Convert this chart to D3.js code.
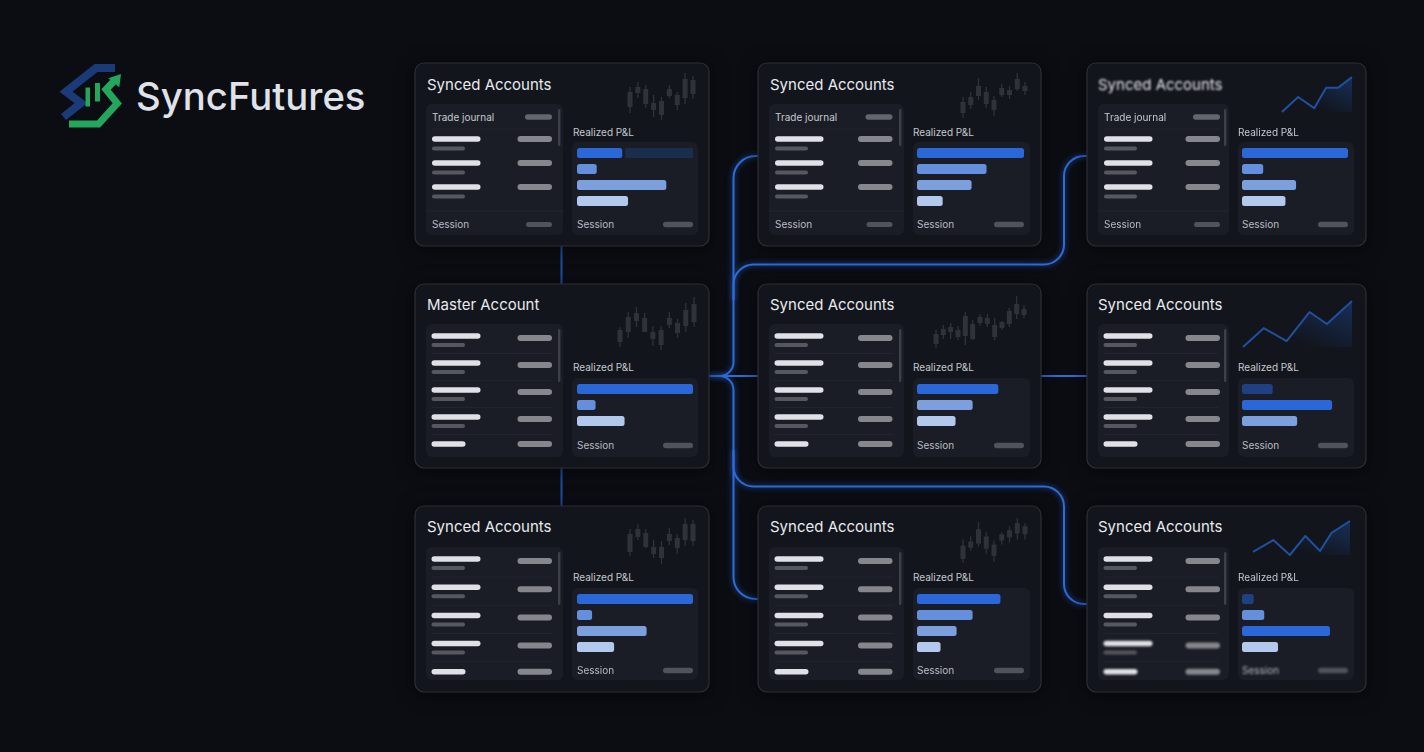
<!DOCTYPE html>
<html>
<head>
<meta charset="utf-8">
<style>
  html, body { margin: 0; padding: 0; background: #0b0d13; }
  svg { display: block; font-family: Inter, "Noto Sans", sans-serif; }
</style>
</head>
<body>
<script src="https://d3js.org/d3.v7.min.js"></script>
<svg id="chart" width="1424" height="752"></svg>
<script>
// card order: column by column, top to bottom
const brandName = "SyncFutures"
const cardTitles = ["Synced Accounts", "Master Account", "Synced Accounts",
                    "Synced Accounts", "Synced Accounts", "Synced Accounts",
                    "Synced Accounts", "Synced Accounts", "Synced Accounts"]
const panelLabel = "Realized P&L"
const headerLabel = "Trade journal"
const footerLabel = "Session"

const barValues = [[39, 17, 77, 44], [100, 16, 41], [100, 13, 60, 32],
                   [100, 65, 51, 24], [76, 52, 36], [78, 52, 37, 22],
                   [100, 20, 51, 41], [29, 85, 52], [11, 21, 83, 34]]
const barTones = [["bright", "mid", "soft", "pale"], ["bright", "mid", "pale"], ["bright", "mid", "soft", "pale"],
                  ["bright", "mid", "soft", "pale"], ["bright", "soft", "pale"], ["bright", "mid", "soft", "pale"],
                  ["bright", "mid", "soft", "pale"], ["dim", "bright", "soft"], ["dim", "mid", "bright", "pale"]]

// [low, body low, body high, high]
const candlesA = [[7,13,28,33],[22,27,33,38],[12,16,31,35],[3,10,17,25],[0,5,19,23],[22,24,31,35],[10,15,25,28],[16,22,41,47],[21,26,40,44]]
const candlesB = [[3,8,20,23],[12,18,33,38],[23,29,37,43],[18,18,32,37],[4,11,18,24],[0,5,20,24],[22,25,32,38],[12,17,27,31],[18,24,40,47],[23,28,46,53]]
const candlesC = [[8,12,30,35],[24,27,35,40],[16,17,31,35],[6,10,17,24],[0,6,17,23],[19,23,30,36],[10,16,26,30],[18,24,40,46],[18,23,40,44]]
const candlesD = [[0,5,16,21],[9,13,21,26],[18,22,32,40],[10,14,26,31],[2,8,18,22],[21,23,30,34],[19,23,28,32],[27,29,39,45],[23,27,32,36]]
const candlesE = [[0,4,14,18],[9,13,19,23],[9,16,21,25],[8,11,18,22],[3,12,32,36],[8,9,24,28],[22,25,31,34],[21,24,30,34],[8,11,23,30],[18,20,26,27],[21,24,37,40],[29,34,44,52],[30,33,39,43]]
const candlesF = [[0,4,17,23],[12,15,21,26],[16,19,33,40],[9,14,26,30],[1,7,18,22],[18,22,28,30],[20,25,32,36],[23,29,39,44],[23,28,36,39]]

const lineTopX = [0, 23, 46, 63, 80, 100]
const lineTopY = [0, 43, 11, 69, 69, 100]
const lineMidX = [0, 19, 40, 61, 77, 100]
const lineMidY = [0, 41, 13, 76, 50, 100]
const lineLowX = [0, 21, 38, 54, 69, 81, 100]
const lineLowY = [9, 44, 0, 56, 12, 65, 100]

const sparkData = [candlesA, candlesB, candlesC, candlesD, candlesE, candlesF,
                   {xs: lineTopX, ys: lineTopY}, {xs: lineMidX, ys: lineMidY}, {xs: lineLowX, ys: lineLowY}]

// layout, kept apart from the values
const colGeom = [
  {x: 415, w: 294, left: [426, 563], right: [572, 698], barX: 577, barW: 116, titleX: 427, labelX: 573, pillEnd: 11},
  {x: 758, w: 283, left: [769, 904], right: [913, 1030], barX: 917, barW: 107, titleX: 770, labelX: 913, pillEnd: 11.5},
  {x: 1087, w: 279, left: [1098, 1229], right: [1238, 1354], barX: 1242, barW: 106, titleX: 1098, labelX: 1238, pillEnd: 9}
]
const rowGeom = [
  {y: 63, h: 183, titleY: 85, list: [104, 235], right: [142, 235], labelY: 132, footY: 224.5},
  {y: 284, h: 184, titleY: 305, list: [324, 457], right: [378, 457], labelY: 367, footY: 445.5},
  {y: 506, h: 186, titleY: 527, list: [547, 680], right: [588, 680], labelY: 577, footY: 670.5}
]
const sparkBoxes = [
  [630, 693, 120, 73], [620, 694, 350, 297], [630, 693, 564, 518],
  [963, 1025, 118, 73], [936, 1024, 348, 296], [963, 1025, 563, 518],
  [1282, 1352, 112, 77], [1243, 1352, 347, 301], [1253, 1350, 555, 521]
]
// blur found on the gif frames: title, label, sparkline, bars, footer, last list rows
const softness = [
  {}, {}, {foot: 0.5, last: 0.7},
  {}, {}, {last: 0.6},
  {title: 1, label: 0.7, spark: 0.5, bars: 0.5, list: 0.3},
  {},
  {label: 0.4, bars: 0.6, foot: 1.3, last: 0.8, list: 0.3}
]

const toneColor = d3.scaleOrdinal()
  .domain(["bright", "mid", "soft", "pale", "dim"])
  .range(["#2a67d8", "#648fdc", "#7ca0de", "#b2c8ec", "#1f4184"])

const svg = d3.select("#chart")
const defs = svg.append("defs")

function blurId(v) { return "blur" + String(v).replace(".", "_") }
;[0.3, 0.4, 0.5, 0.6, 0.7, 0.8, 1, 1.3, 2.5].forEach(v => {
  defs.append("filter").attr("id", blurId(v))
    .attr("x", "-20%").attr("y", "-40%").attr("width", "140%").attr("height", "180%")
    .attr("color-interpolation-filters", "sRGB")
    .append("feGaussianBlur").attr("stdDeviation", v)
})
const shadow = defs.append("filter").attr("id", "cardShadow")
  .attr("x", "-15%").attr("y", "-15%").attr("width", "130%").attr("height", "130%")
  .attr("color-interpolation-filters", "sRGB")
shadow.append("feDropShadow").attr("dx", 0).attr("dy", 2).attr("stdDeviation", 9)
  .attr("flood-color", "#000").attr("flood-opacity", 0.55)
const sparkFade = defs.append("linearGradient").attr("id", "sparkFade")
  .attr("x1", 0).attr("y1", 1).attr("x2", 1).attr("y2", 0)
sparkFade.append("stop").attr("offset", "30%").attr("stop-color", "#1f4ea3").attr("stop-opacity", 0)
sparkFade.append("stop").attr("offset", "100%").attr("stop-color", "#1f4ea3").attr("stop-opacity", 0.45)

function soft(sel, v) { if (v) sel.attr("filter", `url(#${blurId(v)})`); return sel }

svg.append("rect").attr("width", 1424).attr("height", 752).attr("fill", "#0b0d13")

const cards = cardTitles.map((title, i) => {
  const c = Math.floor(i / 3), r = i % 3
  return {title, col: colGeom[c], row: rowGeom[r], r, bars: barValues[i], tones: barTones[i],
          spark: sparkData[i], box: sparkBoxes[i], soft: softness[i]}
})

// connectors --------------------------------------------------
const master = cards[1]
const trunkX = 733.5, busX = 1064
const topBusY = 264.5, lowBusY = 486.5
const masterY = 376, topY = 156, lowY = 599, lowFarY = 604

function route(points, radii) {
  const p = d3.path()
  p.moveTo(points[0][0], points[0][1])
  for (let i = 1; i < points.length - 1; i++) {
    p.arcTo(points[i][0], points[i][1], points[i + 1][0], points[i + 1][1], radii[i - 1])
  }
  const last = points[points.length - 1]
  p.lineTo(last[0], last[1])
  return p.toString()
}
const masterRight = master.col.x + master.col.w
const routes = [
  {d: route([[masterRight, masterY], [trunkX, masterY], [trunkX, topY], [cards[3].col.x, topY]], [14, 22])},
  {d: route([[masterRight, masterY], [trunkX, masterY], [trunkX, lowY], [cards[5].col.x, lowY]], [14, 22])},
  {d: route([[trunkX, 300], [trunkX, topBusY], [busX, topBusY], [busX, topY], [cards[6].col.x, topY]], [20, 20, 20])},
  {d: route([[trunkX, 450], [trunkX, lowBusY], [busX, lowBusY], [busX, lowFarY], [cards[8].col.x, lowFarY]], [20, 20, 20])},
  {d: route([[masterRight, masterY], [cards[4].col.x, masterY]], [])},
  {d: route([[cards[4].col.x + cards[4].col.w, masterY], [cards[7].col.x, masterY]], [])}
]
const wires = svg.append("g").attr("fill", "none")
wires.selectAll("path.glow").data(routes).enter().append("path")
  .attr("class", "glow").attr("d", d => d.d)
  .attr("stroke", "#2a6be0").attr("stroke-width", 5).attr("stroke-opacity", 0.3)
  .attr("filter", `url(#${blurId(2.5)})`)
wires.selectAll("path.core").data(routes).enter().append("path")
  .attr("class", "core").attr("d", d => d.d)
  .attr("stroke", "#2d6bd8").attr("stroke-width", 2)

// the two short stubs from master up and down
const stubX = 561.5
wires.selectAll("line.stub").data([[cards[0].row.y + cards[0].row.h, master.row.y], [master.row.y + master.row.h, cards[2].row.y]])
  .enter().append("line").attr("class", "stub")
  .attr("x1", stubX).attr("x2", stubX)
  .attr("y1", d => d[0]).attr("y2", d => d[1])
  .attr("stroke", "#1d4fa6").attr("stroke-width", 2)

// cards -------------------------------------------------------
const cardG = svg.selectAll("g.card").data(cards).enter().append("g").attr("class", "card")
cardG.each(function(card) { drawCard(d3.select(this), card) })

function textAt(g, x, y, s, size, fill, weight) {
  return g.append("text").attr("x", x).attr("y", y).attr("dy", "0.36em")
    .attr("font-size", size).attr("font-weight", weight || 400).attr("fill", fill).text(s)
}
function pill(g, x, y, w, h, fill) {
  return g.append("rect").attr("x", x).attr("y", y - h / 2).attr("width", w).attr("height", h)
    .attr("rx", h / 2).attr("fill", fill)
}

function drawCard(g, card) {
  const {col, row} = card
  const s = card.soft
  g.append("rect").attr("x", col.x).attr("y", row.y).attr("width", col.w).attr("height", row.h)
    .attr("rx", 9).attr("fill", "#12151c").attr("stroke", "#2c2f36").attr("stroke-width", 1.2)
    .attr("filter", "url(#cardShadow)")
  soft(textAt(g, col.titleX, row.titleY, card.title, 15, "#e8eaee", 400), s.title)

  // list panel
  g.append("rect").attr("x", col.left[0]).attr("y", row.list[0])
    .attr("width", col.left[1] - col.left[0]).attr("height", row.list[1] - row.list[0])
    .attr("rx", 6).attr("fill", "#1a1d25")
  drawList(soft(g.append("g"), s.list), card)

  // right panel
  g.append("rect").attr("x", col.right[0]).attr("y", row.right[0])
    .attr("width", col.right[1] - col.right[0]).attr("height", row.right[1] - row.right[0])
    .attr("rx", 6).attr("fill", "#1a1d25")
  soft(textAt(g, col.labelX, row.labelY, panelLabel, 10, "#c6c9cf"), s.label)
  drawBars(soft(g.append("g"), s.bars), card)
  soft(textAt(g, col.barX, row.footY, footerLabel, 10, "#b8bbc1"), s.foot)
  soft(pill(g, col.barX + col.barW - 30, row.footY, 30, 5.5, "#50535a"), s.foot)

  if (Array.isArray(card.spark)) drawCandles(g, card)
  else drawLine(soft(g.append("g"), s.spark), card)
}

function drawList(g, card) {
  const {col, row, r} = card
  const [l, rEdge] = col.left
  const top = row.list[0]
  const xStart = l + (r === 0 ? 6 : 5.5)
  const rightEnd = rEdge - col.pillEnd
  // scrollbar
  g.append("rect").attr("x", rEdge - 5).attr("y", top + 5).attr("width", 2.4)
    .attr("height", r === 0 ? 37 : 53).attr("rx", 1.2).attr("fill", "#3d4047")

  if (r === 0) {
    textAt(g, xStart, top + 13, headerLabel, 10, "#c6c9cf")
    pill(g, rightEnd - 27, top + 13, 27, 5.5, "#63666d")
    g.append("line").attr("x1", l + 6).attr("x2", rEdge - 10).attr("y1", top + 25).attr("y2", top + 25).attr("stroke", "#24272f")
    ;[35, 59, 83].forEach(dy => {
      pill(g, xStart, top + dy, 48.5, 5.5, "#dfe1e6")
      pill(g, xStart, top + dy + 9.5, 33, 4, "#55585f")
      pill(g, rightEnd - 34.5, top + dy, 34.5, 6, "#85878c")
    })
    g.append("line").attr("x1", l).attr("x2", rEdge).attr("y1", top + 107).attr("y2", top + 107).attr("stroke", "#24272f")
    textAt(g, xStart, top + 120.5, footerLabel, 10, "#b8bbc1")
    pill(g, rightEnd - 26, top + 120.5, 26, 5, "#50535a")
  } else {
    const step = r === 1 ? 27 : 28.2
    ;[0, 1, 2, 3, 4].forEach(k => {
      const y = top + 12 + k * step
      const lastOne = k === 4
      const rowG = soft(g.append("g"), k >= 3 ? card.soft.last : 0)
      pill(rowG, xStart, y, lastOne ? 34 : 49, 5.5, "#dfe1e6")
      if (!lastOne) pill(rowG, xStart, y + 9, 33.5, 4, "#55585f")
      pill(rowG, rightEnd - 34.5, y + (lastOne ? 0 : 2), 34.5, 6, "#85878c")
      if (!lastOne) g.append("line").attr("x1", l + 5).attr("x2", rEdge - 11)
        .attr("y1", y + step / 2 + 4).attr("y2", y + step / 2 + 4).attr("stroke", "#22252d")
    })
  }
}

function drawBars(g, card) {
  const {col, row} = card
  const x = d3.scaleLinear().domain([0, 100]).range([0, col.barW])
  const y = d3.scaleBand().domain(d3.range(4))
    .range([row.right[0] + 6, row.right[0] + 64]).paddingInner(0.375).paddingOuter(0)
  // first card is caught mid-animation, the rest of the bar fades away
  if (card === cards[0]) {
    g.append("rect").attr("x", col.barX + x(card.bars[0]) + 3).attr("y", y(0))
      .attr("width", x(100 - card.bars[0]) - 3).attr("height", y.bandwidth())
      .attr("fill", "#1e3a70").attr("opacity", 0.55)
  }
  g.selectAll("rect.bar").data(card.bars).enter().append("rect").attr("class", "bar")
    .attr("x", col.barX).attr("y", (d, i) => y(i))
    .attr("width", d => x(d)).attr("height", y.bandwidth()).attr("rx", 2.5)
    .attr("fill", (d, i) => toneColor(card.tones[i]))
}

function drawCandles(g, card) {
  const [x0, x1, yb, yt] = card.box
  const x = d3.scalePoint().domain(d3.range(card.spark.length)).range([x0, x1])
  const y = d3.scaleLinear().domain([0, d3.max(card.spark, d => d[3])]).range([yb, yt])
  const c = g.append("g").selectAll("g").data(card.spark).enter().append("g")
  c.append("line").attr("x1", (d, i) => x(i)).attr("x2", (d, i) => x(i))
    .attr("y1", d => y(d[0])).attr("y2", d => y(d[3]))
    .attr("stroke", "#2f3239").attr("stroke-width", 1.3)
  c.append("rect").attr("x", (d, i) => x(i) - 2.5).attr("width", 5)
    .attr("y", d => y(d[2])).attr("height", d => y(d[1]) - y(d[2]))
    .attr("fill", "#2f3239")
}

function drawLine(g, card) {
  const [x0, x1, yb, yt] = card.box
  const pts = card.spark.xs.map((v, i) => [v, card.spark.ys[i]])
  const x = d3.scaleLinear().domain([0, 100]).range([x0, x1])
  const y = d3.scaleLinear().domain([0, 100]).range([yb, yt])
  const area = d3.area().x(d => x(d[0])).y0(yb).y1(d => y(d[1]))
  const line = d3.line().x(d => x(d[0])).y(d => y(d[1]))
  g.append("path").attr("d", area(pts)).attr("fill", "url(#sparkFade)")
  g.append("path").attr("d", line(pts)).attr("fill", "none")
    .attr("stroke", "#20509f").attr("stroke-width", 2).attr("stroke-linejoin", "round")
}

// brand mark --------------------------------------------------
const logo = svg.append("g")
logo.append("path").attr("d", "M115 68H96L66 91.7L81 103L63.5 117")
  .attr("fill", "none").attr("stroke", "#1b3a78").attr("stroke-width", 8)
logo.append("path").attr("d", "M69 124H98.5L117.3 103.3L106 89.5L114 81")
  .attr("fill", "none").attr("stroke", "#22a75d").attr("stroke-width", 7)
logo.append("path").attr("d", "M108.3 78.3L121 74L119.3 87.3Z").attr("fill", "#22a75d")
logo.append("rect").attr("x", 85.5).attr("y", 87.5).attr("width", 4.5).attr("height", 19).attr("fill", "#22a75d")
logo.append("rect").attr("x", 95).attr("y", 83).attr("width", 5).attr("height", 18.5).attr("fill", "#22a75d")

svg.append("text").attr("x", 136).attr("y", 96).attr("dy", "0.36em")
  .attr("font-size", 38.3).attr("font-weight", 500).attr("fill", "#dfe2e8").text(brandName)
</script>
</body>
</html>
